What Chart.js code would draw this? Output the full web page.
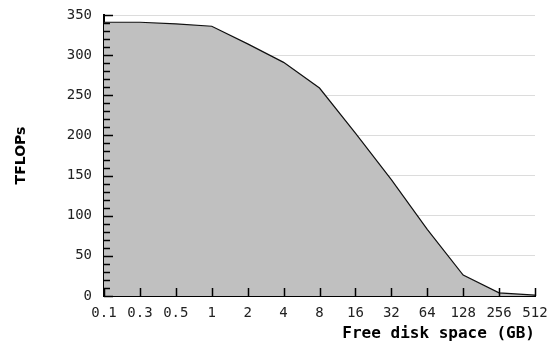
<!DOCTYPE html>
<html>
<head>
<meta charset="utf-8">
<script src="https://cdn.jsdelivr.net/npm/chart.js@4/dist/chart.umd.min.js"></script>
<style>
  html, body { margin: 0; padding: 0; background: #fff; }
  #wrap { width: 554px; height: 343px; }
</style>
</head>
<body>
<div id="wrap"><canvas id="areaChart" width="554" height="343"></canvas></div>
<script>
// free disk space (GB) categories and TFLOPs
var diskSpace = ['0.1', '0.3', '0.5', '1', '2', '4', '8', '16', '32', '64', '128', '256', '512'];
var tflops = [341, 341, 339, 336, 314, 291, 259, 203, 145, 83, 26, 4, 1];
var yTicksMax = 350;
var yMajorStep = 50;
var yMinorStep = 10;

// little tick marks pointing into the plot, like the original
var innerTicks = {
	id: 'innerTicks',
	afterDatasetsDraw: function(chart) {
		var ctx = chart.ctx;
		var x = chart.scales.x;
		var y = chart.scales.y;
		ctx.save();
		ctx.strokeStyle = '#000';
		ctx.lineWidth = 1.5;
		ctx.beginPath();
		for (var v = 0; v <= yTicksMax; v += yMinorStep) {
			var py = Math.round(y.getPixelForValue(v)) + 0.5;
			var len = (v % yMajorStep === 0) ? 9 : 6;
			ctx.moveTo(x.left, py);
			ctx.lineTo(x.left + len, py);
		}
		for (var i = 0; i < diskSpace.length; i++) {
			var px = Math.round(x.getPixelForValue(i)) + 0.5;
			ctx.moveTo(px, y.bottom);
			ctx.lineTo(px, y.bottom - 8);
		}
		ctx.stroke();
		ctx.restore();
	}
};

var ctx = document.getElementById('areaChart');

var chart = new Chart(ctx, {
	type: 'line',
	data: {
		labels: diskSpace,
		datasets: [{
			label: 'TFLOPs',
			data: tflops,
			fill: 'origin',
			backgroundColor: '#c0c0c0',
			borderColor: '#111',
			borderWidth: 1.2,
			pointRadius: 0,
			tension: 0
		}]
	},
	options: {
		responsive: false,
		animation: false,
		layout: { padding: { top: 15, right: 19, left: 0, bottom: 0 } },
		plugins: {
			legend: { display: false },
			tooltip: { enabled: false }
		},
		scales: {
			x: {
				type: 'category',
				offset: false,
				grid: { display: false, drawTicks: false },
				border: { display: true, color: '#000', width: 2 },
				ticks: {
					autoSkip: false,
					maxRotation: 0,
					padding: 9,
					color: '#222',
					font: { family: 'DejaVu Sans Mono', size: 14 }
				},
				title: {
					display: true,
					text: 'Free disk space (GB)',
					align: 'end',
					color: '#000',
					padding: { top: 0, bottom: 0 },
					font: { family: 'DejaVu Sans Mono', size: 16, weight: 'bold' }
				},
				afterFit: function(scale) {
					scale.height = 47;
					scale.paddingLeft = 0;
					scale.paddingRight = 0;
				}
			},
			y: {
				min: 0,
				max: yTicksMax,
				grid: { color: '#dcdcdc', lineWidth: 1, drawTicks: false },
				border: { display: true, color: '#000', width: 2 },
				ticks: {
					stepSize: yMajorStep,
					padding: 12,
					color: '#222',
					font: { family: 'DejaVu Sans Mono', size: 14 }
				},
				title: {
					display: true,
					text: 'TFLOPs',
					color: '#000',
					padding: { top: 13, bottom: 0 },
					font: { family: 'DejaVu Sans', size: 14, weight: 'bold' }
				},
				afterFit: function(scale) {
					scale.width = 104;
					scale.paddingTop = 0;
					scale.paddingBottom = 0;
				}
			}
		}
	},
	plugins: [innerTicks]
});
</script>
</body>
</html>
